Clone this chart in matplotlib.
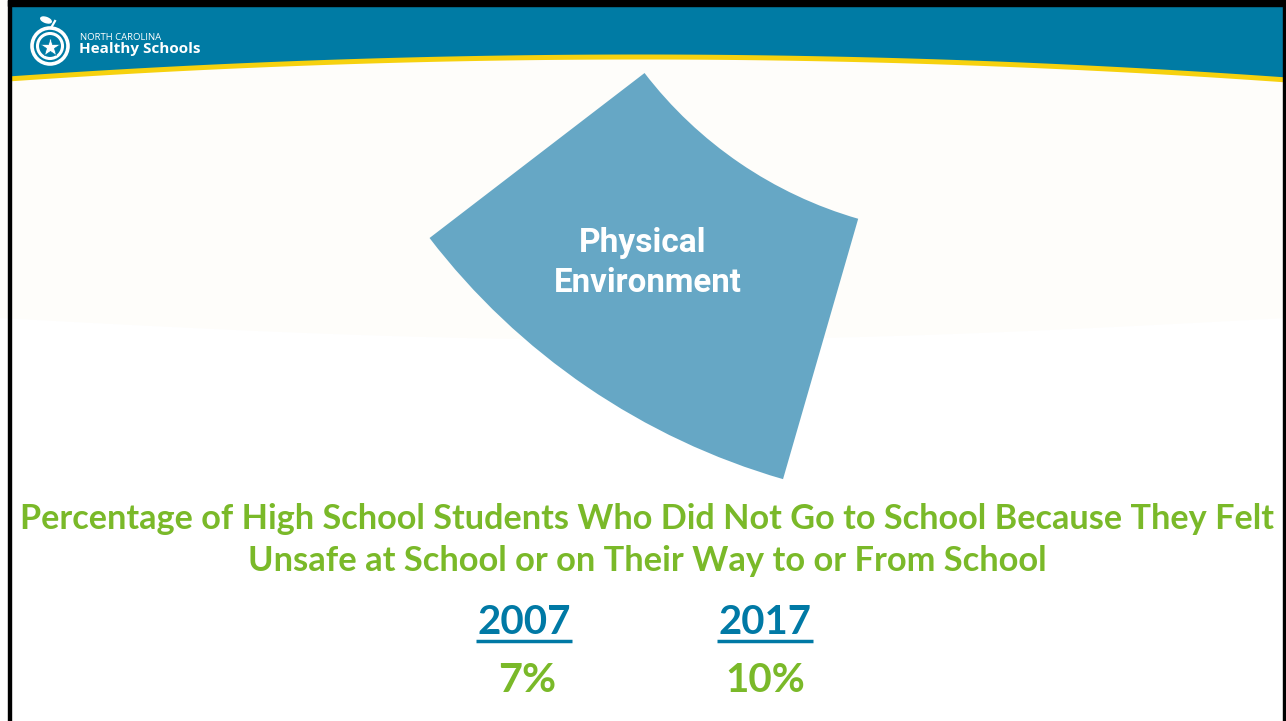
import numpy as np
import matplotlib
matplotlib.use("Agg")
import matplotlib.pyplot as plt
from matplotlib.patches import Wedge, Circle, Rectangle, Ellipse

# slide content
TITLE_LINES = [
    "Percentage of High School Students Who Did Not Go to School Because They Felt",
    "Unsafe at School or on Their Way to or From School",
]
YEARS = ["2007", "2017"]
PERCENTS = [7, 10]
SEGMENT_LABEL = ["Physical", "Environment"]

TEAL = "#007BA4"
YELLOW = "#F6D10E"
WEDGE = "#66A7C5"
GREEN = "#7AB929"
BLUE = "#0079A5"

W, H = 1286, 721
fig = plt.figure(figsize=(W / 100, H / 100), dpi=100)
ax = fig.add_axes([0, 0, 1, 1])
ax.set_xlim(0, W)
ax.set_ylim(H, 0)
ax.axis("off")
fig.patch.set_facecolor("white")
renderer = fig.canvas.get_renderer()


def fit_text(x, y, s, width, **kw):
    """Place text and scale its font so it spans `width` pixels."""
    t = ax.text(x, y, s, **kw)
    bb = t.get_window_extent(renderer)
    t.set_fontsize(t.get_fontsize() * width / bb.width)
    return t


# very faint off-white upper background
xs = np.linspace(0, W, 200)
ax.fill_between(xs, 0, 318 + 22 * np.sin(np.pi * xs / W), color="#FEFDFA", lw=0, zorder=0)

# header band with yellow swoosh
hx = np.linspace(8, W, 400)
bottom = 54 + 5.5e-5 * (hx - 640) ** 2
ax.fill_between(hx, 0, bottom + 5, color=YELLOW, lw=0, zorder=1)
ax.fill_between(hx, 0, bottom, color=TEAL, lw=0, zorder=2)

# frame
ax.add_patch(Rectangle((8, 0), 3, H, color="black", zorder=5))
ax.add_patch(Rectangle((8, 0), W, 6, color="black", zorder=5))
ax.add_patch(Rectangle((W - 3, 0), 3, H, color="black", zorder=5))

# logo
ax.add_patch(Circle((50, 46), 18, fill=False, ec="white", lw=2.6, zorder=3))
ax.add_patch(Circle((50, 46), 12.5, fill=False, ec="white", lw=2.2, zorder=3))
ax.plot([50], [46.5], marker="*", ms=15, color="white", mec=TEAL, mew=0.5, zorder=4)
ax.plot([51, 55], [28, 21], color="white", lw=1.6, zorder=3)
ax.add_patch(Ellipse((46, 20), 11, 5, angle=20, color="white", zorder=3))
ax.text(80, 39.5, "NORTH CAROLINA", color="white", fontsize=6.8,
        family=["Open Sans", "DejaVu Sans"], va="baseline", ha="left", zorder=4)
ax.text(79, 53.5, "Healthy Schools", color="white", fontsize=11, fontweight="bold",
        family=["Open Sans", "DejaVu Sans"], va="baseline", ha="left", zorder=4)

# one segment of the wheel (annular sector)
cx, cy = 973, -179
r_out, r_in = 685, 414
ax.add_patch(Wedge((cx, cy), r_out, 106.1, 142.5, width=r_out - r_in,
                   color=WEDGE, lw=0, zorder=3))
seg_font = ["Liberation Sans Narrow", "Roboto", "DejaVu Sans"]
fit_text(643, 243, SEGMENT_LABEL[0], 128, color="white", fontsize=24, fontweight="bold",
         family=seg_font, ha="center", va="center", zorder=4)
fit_text(648, 283, SEGMENT_LABEL[1], 188, color="white", fontsize=24, fontweight="bold",
         family=seg_font, ha="center", va="center", zorder=4)

# title
title_font = ["Lato", "DejaVu Sans"]
fit_text(647, 519, TITLE_LINES[0], 1251, color=GREEN, fontsize=22, fontweight="bold",
         family=title_font, ha="center", va="center")
fit_text(647, 561, TITLE_LINES[1], 799, color=GREEN, fontsize=22, fontweight="bold",
         family=title_font, ha="center", va="center")

# year comparison
col_x = [524, 765]
for x, year, pct in zip(col_x, YEARS, PERCENTS):
    fit_text(x, 622, year, 93, color=BLUE, fontsize=26, fontweight="bold",
             family=title_font, ha="center", va="center")
    ax.plot([x - 48, x + 48], [641, 641], color=BLUE, lw=2.5, solid_capstyle="butt")
    label = f"{pct}%"
    fit_text(x + (3 if pct < 10 else 0), 681, label, 58 if pct < 10 else 80,
             color=GREEN, fontsize=26, fontweight="bold",
             family=title_font, ha="center", va="center")

fig.savefig("out.png", dpi=100, facecolor="white")
